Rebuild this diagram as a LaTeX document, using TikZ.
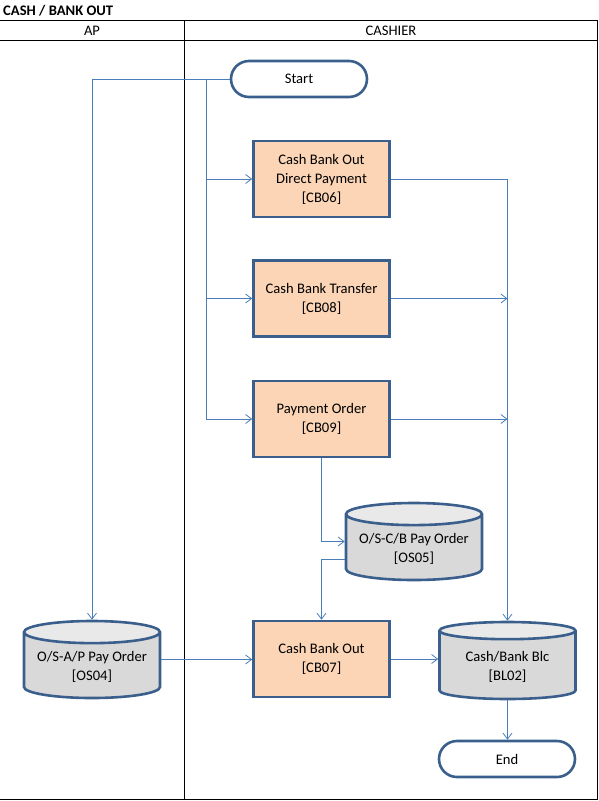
\documentclass[tikz,border=0pt]{standalone}
\usepackage{fontspec}
\setmainfont{Carlito}
\usetikzlibrary{shapes.geometric, arrows.meta}

\definecolor{boxfill}{HTML}{FBD5B5}
\definecolor{boxline}{HTML}{3A5F8C}
\definecolor{flowline}{HTML}{4A7EBB}
\definecolor{dbbody}{HTML}{D9D9D9}
\definecolor{dbtop}{HTML}{E9E9E9}

\tikzset{
  lbl/.style={font=\fontsize{14.6}{19}\selectfont, align=center},
  proc/.style={lbl, draw=boxline, line width=2.6pt, fill=boxfill,
    minimum width=136pt, minimum height=76pt},
  term/.style={lbl, draw=boxline, line width=2.6pt, fill=white,
    rounded corners=18pt, minimum width=136pt, minimum height=36pt},
  store/.style={lbl, cylinder, shape border rotate=90, aspect=0.19,
    anchor=shape center,
    draw=boxline, line width=2.6pt, cylinder uses custom fill,
    cylinder body fill=dbbody, cylinder end fill=dbtop,
    minimum width=136pt, minimum height=77pt},
  flow/.style={draw=flowline, line width=0.8pt,
    -{Straight Barb[length=6pt,width=9pt]}},
}

\begin{document}
\begin{tikzpicture}[x=1pt, y=-1pt]
\useasboundingbox (0,0) rectangle (599,801);

% frame and lanes
\node[lbl, font=\fontsize{14.6}{19}\selectfont\bfseries, anchor=west, inner sep=0pt] (ttl) at (3,11) {CASH / BANK OUT};
\draw[line width=1pt] (0,20.5) -- (597.5,20.5) -- (597.5,799) -- (0,799);
\draw[line width=1pt] (0,40.5) -- (597.5,40.5);
\draw[line width=1pt] (184.5,20.5) -- (184.5,799);
\node[lbl] (ap) at (92,31) {AP};
\node[lbl] (cashier) at (391,31) {CASHIER};

\node[term] (start) at (299,79) {Start};
\node[proc] (cb06) at (321.5,179) {Cash Bank Out\\Direct Payment\\{[CB06]}};
\node[proc] (cb08) at (321.5,298.5) {Cash Bank Transfer\\{[CB08]}};
\node[proc] (cb09) at (321.5,419) {Payment Order\\{[CB09]}};
\node[store] (os05) at (414,541.5) {O/S-C/B Pay Order\\{[OS05]}};
\node[proc] (cb07) at (321.5,659) {Cash Bank Out\\{[CB07]}};
\node[store] (os04) at (92,659.5) {O/S-A/P Pay Order\\{[OS04]}};
\node[store] (bl02) at (507.5,660.5) {Cash/Bank Blc\\{[BL02]}};
\node[term] (end) at (507,759) {End};

\coordinate (trunk) at (206.5,79);
\coordinate (rail) at (507.5,179);

\draw[flow] (start.west) -| (os04.north);
\draw[flow] (trunk) |- (cb06.west);
\draw[flow] (trunk) |- (cb08.west);
\draw[flow] (trunk) |- (cb09.west);
\draw[flow] (cb06.east) -| (bl02.north);
\draw[flow] (cb08.east) -- (cb08.east -| rail);
\draw[flow] (cb09.east) -- (cb09.east -| rail);
\draw[flow] (cb09.south) |- (os05.shape center -| os05.west);
\draw[flow] ([yshift=-18pt]os05.shape center -| os05.west) -| (cb07.north);
\draw[flow] (os04.shape center -| os04.east) -- (os04.shape center -| cb07.west);
\draw[flow] (cb07.east) -- (cb07.east -| bl02.west);
\draw[flow] (bl02.south) -- (bl02.south |- end.north);
\end{tikzpicture}
\end{document}
